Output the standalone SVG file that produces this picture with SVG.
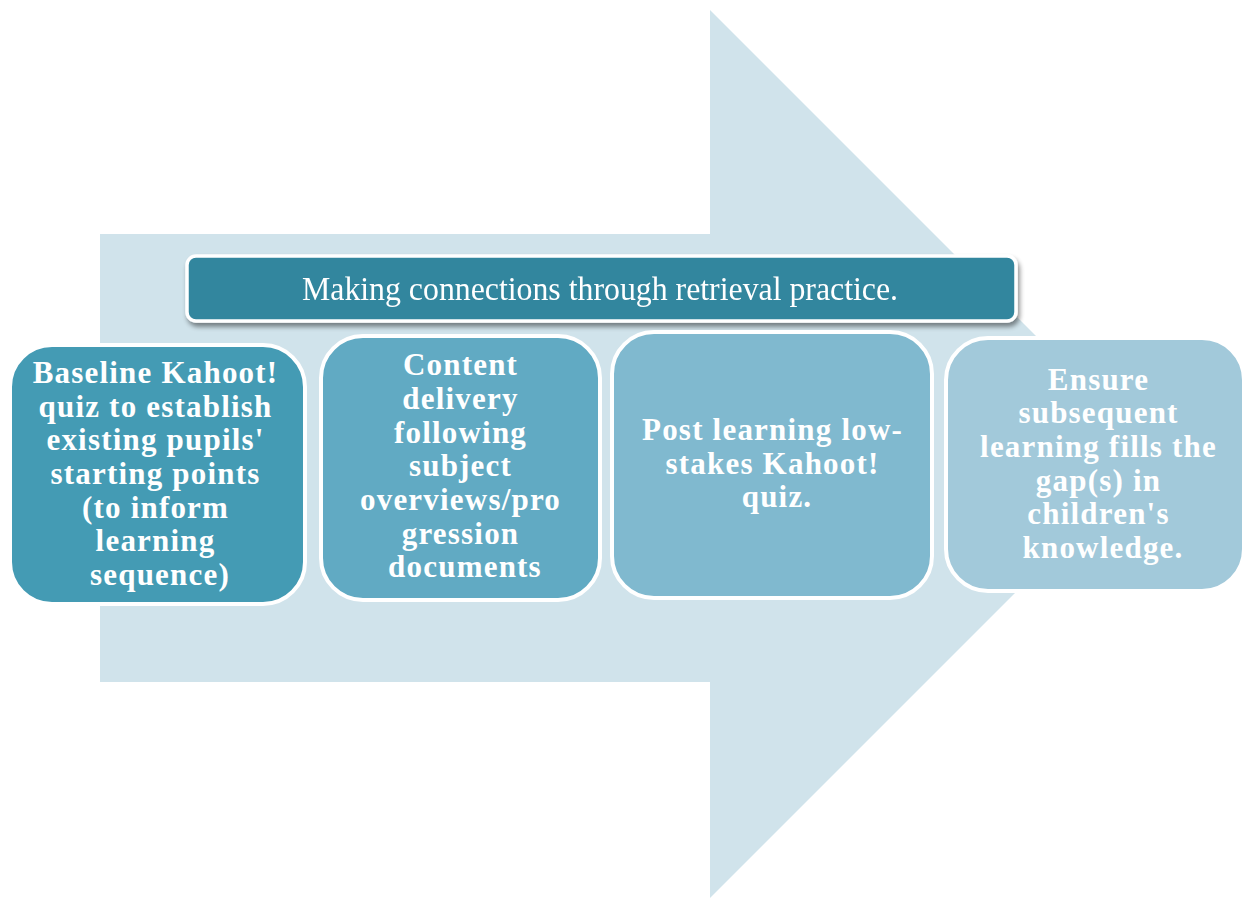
<svg xmlns="http://www.w3.org/2000/svg" width="1245" height="899" viewBox="0 0 1245 899">
  <defs>
    <filter id="shadow" x="-5%" y="-20%" width="110%" height="160%">
      <feGaussianBlur in="SourceAlpha" stdDeviation="2.5"/>
      <feOffset dx="2" dy="4" result="b"/>
      <feComponentTransfer><feFuncA type="linear" slope="0.45"/></feComponentTransfer>
      <feMerge><feMergeNode/><feMergeNode in="SourceGraphic"/></feMerge>
    </filter>
  </defs>
  <style>
    .step { stroke: #ffffff; stroke-width: 4; }
    .label { font-family: "Liberation Serif", "Times New Roman", serif; font-weight: bold; font-size: 31px; letter-spacing: 1.2px; fill: #ffffff; text-anchor: middle; }
    .banner-text { font-family: "Liberation Serif", "Times New Roman", serif; font-size: 33px; fill: #ffffff; }
  </style>

  <rect width="1245" height="899" fill="#ffffff"/>

  <!-- large background block arrow -->
  <g id="arrow">
    <path d="M100,234 H710 V10 L1154,454 L710,898 V682 H100 Z" fill="#d0e3eb"/>
  </g>

  <!-- title banner -->
  <g id="banner" filter="url(#shadow)">
    <rect x="187" y="256" width="829" height="65" rx="9" fill="#33869e" stroke="#ffffff" stroke-width="3.5"/>
    <text class="banner-text" x="302" y="300" textLength="596" lengthAdjust="spacingAndGlyphs">Making connections through retrieval practice.</text>
  </g>

  <g id="step1">
    <rect class="step" x="10" y="345" width="295" height="259" rx="42" fill="#449bb4"/>
    <text class="label">
      <tspan x="160" y="383">Baseline Kahoot!</tspan>
      <tspan x="160" y="417">quiz to establish</tspan>
      <tspan x="160" y="450">existing pupils'</tspan>
      <tspan x="160" y="484">starting points</tspan>
      <tspan x="160" y="518">(to inform</tspan>
      <tspan x="160" y="551">learning</tspan>
      <tspan x="160" y="585">sequence)</tspan>
    </text>
  </g>

  <g id="step2">
    <rect class="step" x="321" y="336" width="279" height="264" rx="42" fill="#61aac3"/>
    <text class="label">
      <tspan x="465" y="375">Content</tspan>
      <tspan x="465" y="409">delivery</tspan>
      <tspan x="465" y="443">following</tspan>
      <tspan x="465" y="476">subject</tspan>
      <tspan x="465" y="510">overviews/pro</tspan>
      <tspan x="465" y="544">gression</tspan>
      <tspan x="465" y="577">documents</tspan>
    </text>
  </g>

  <g id="step3">
    <rect class="step" x="612" y="332" width="320" height="266" rx="42" fill="#80b9cf"/>
    <text class="label">
      <tspan x="777" y="440">Post learning low-</tspan>
      <tspan x="777" y="474">stakes Kahoot!</tspan>
      <tspan x="777" y="507">quiz.</tspan>
    </text>
  </g>

  <g id="step4">
    <rect class="step" x="946" y="338" width="298" height="253" rx="42" fill="#a2c9da"/>
    <text class="label">
      <tspan x="1103" y="390">Ensure</tspan>
      <tspan x="1103" y="423">subsequent</tspan>
      <tspan x="1103" y="457">learning fills the</tspan>
      <tspan x="1103" y="491">gap(s) in</tspan>
      <tspan x="1103" y="524">children's</tspan>
      <tspan x="1103" y="558">knowledge.</tspan>
    </text>
  </g>
</svg>
